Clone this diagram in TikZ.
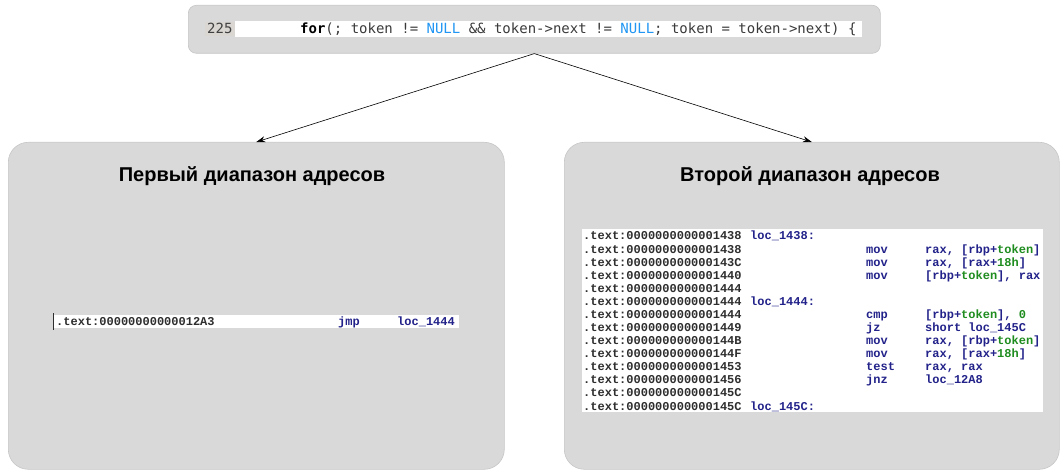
\documentclass[tikz,border=0pt]{standalone}
\usepackage{fontspec}
\setmainfont{Liberation Sans}
\newfontfamily\idafont{Liberation Mono}
\newfontfamily\srcfont{DejaVu Sans Mono}
\usetikzlibrary{arrows.meta}
\frenchspacing

\definecolor{panel}{HTML}{D9D9D9}
\definecolor{panelline}{HTML}{C6C6C6}
\definecolor{srctext}{HTML}{3A3A3A}
\definecolor{srcnull}{HTML}{2196F3}
\definecolor{linenobg}{HTML}{DAD7D3}
\definecolor{idaaddr}{HTML}{2E2E2E}
\definecolor{idacode}{HTML}{22228A}
\definecolor{idanum}{HTML}{1E8C1E}
\newcommand\tok{\textcolor{idanum}{token}}
\newcommand\hexn[1]{\textcolor{idanum}{#1}}

\begin{document}
\begin{tikzpicture}[x=1pt,y=-1pt,
  panelbox/.style={draw=panelline, line width=0.6pt, fill=panel,
    rounded corners=20pt, anchor=north west, inner sep=0pt},
  title/.style={font=\bfseries\fontsize{20}{24}\selectfont, anchor=base, inner sep=0pt},
  src/.style={font=\srcfont\fontsize{14}{16}\selectfont, text=srctext,
    anchor=base west, inner sep=0pt},
  ida/.style={font=\idafont\bfseries\fontsize{12}{14}\selectfont,
    anchor=base west, inner sep=0pt},
  addr/.style={ida, text=idaaddr},
  asm/.style={ida, text=idacode},
  link/.style={-{Stealth[length=9pt,width=6pt]}, line width=0.6pt}
]
\useasboundingbox (0,0) rectangle (1064,470);

% source line panel
\node[panelbox, rounded corners=8pt, minimum width=692pt, minimum height=48pt] (srcbox) at (188,5) {};
\fill[white] (235,21) rectangle (862,37);
\fill[linenobg] (205,22) rectangle (235,36);
\node[src, text=black!75] (lineno) at (207,33.5) {225};
\node[src] (code) at (300,33.5) {\textbf{\color{black}for}(; token != \textcolor{srcnull}{NULL} \&\& token->next != \textcolor{srcnull}{NULL}; token = token->next) \{};

% the two address ranges
\node[panelbox, minimum width=496pt, minimum height=327pt] (left) at (8,142) {};
\node[panelbox, minimum width=495pt, minimum height=327pt] (right) at (564,142) {};
\node[title] (t1) at (252,182) {Первый диапазон адресов};
\node[title] (t2) at (810,182) {Второй диапазон адресов};

\draw[link] (srcbox.south) -- (left.north);
\draw[link] (srcbox.south) -- (right.north);

% first range: a single jump
\fill[white] (53,315) rectangle (459,328);
\draw[idaaddr, line width=0.6pt] (53.5,313) -- (53.5,330);
\node[addr] (j0) at (56,325) {.text:00000000000012A3};
\node[asm] (j1) at (338,325) {jmp};
\node[asm] (j2) at (397,325) {loc\_1444};

% second range: the loop condition
\fill[white] (582,229) rectangle (1043,412);
\foreach \n/\ad/\lb/\mn/\opd in {
  0/1438/{loc\_1438:}/{}/{},
  1/1438/{}/mov/{rax, [rbp+\tok]},
  2/143C/{}/mov/{rax, [rax+\hexn{18h}]},
  3/1440/{}/mov/{[rbp+\tok], rax},
  4/1444/{}/{}/{},
  5/1444/{loc\_1444:}/{}/{},
  6/1444/{}/cmp/{[rbp+\tok], \hexn{0}},
  7/1449/{}/jz/{short loc\_145C},
  8/144B/{}/mov/{rax, [rbp+\tok]},
  9/144F/{}/mov/{rax, [rax+\hexn{18h}]},
  10/1453/{}/test/{rax, rax},
  11/1456/{}/jnz/{loc\_12A8},
  12/145C/{}/{}/{},
  13/145C/{loc\_145C:}/{}/{}}
{
  \node[addr] (ad\n) at (583,240+13.08*\n) {.text:000000000000\ad};
  \node[asm] (lb\n) at (750,240+13.08*\n) {\lb};
  \node[asm] (mn\n) at (866,240+13.08*\n) {\mn};
  \node[asm] (op\n) at (925,240+13.08*\n) {\opd};
}
\end{tikzpicture}
\end{document}
